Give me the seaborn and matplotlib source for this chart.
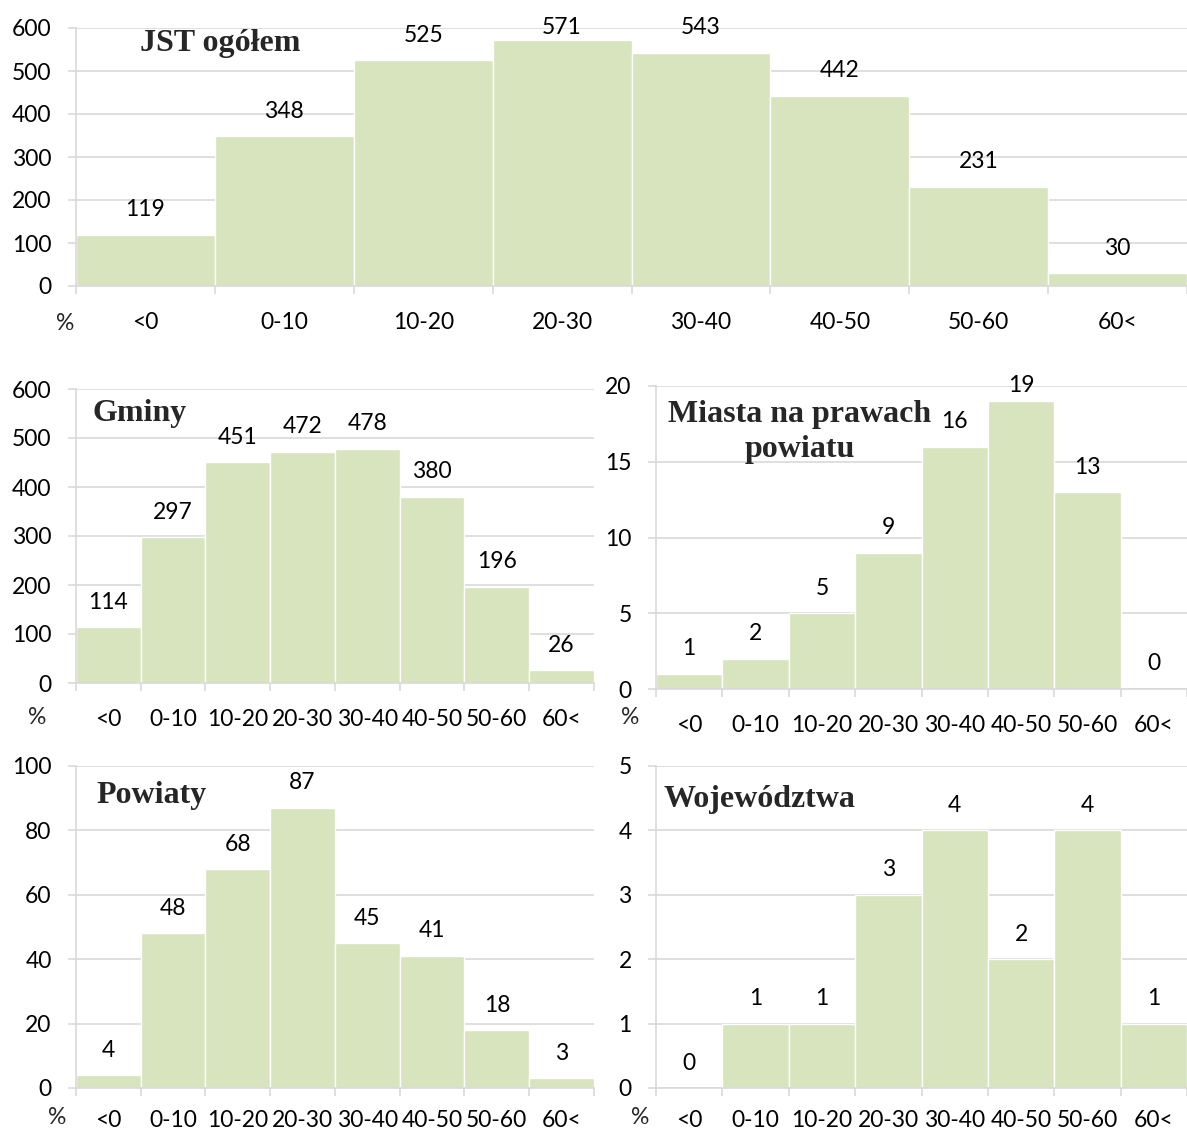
import matplotlib
matplotlib.use("Agg")
import matplotlib.pyplot as plt
import seaborn as sns
import numpy as np

categories = ["<0", "0-10", "10-20", "20-30", "30-40", "40-50", "50-60", "60<"]
jst_ogolem = [119, 348, 525, 571, 543, 442, 231, 30]
gminy = [114, 297, 451, 472, 478, 380, 196, 26]
miasta = [1, 2, 5, 9, 16, 19, 13, 0]
powiaty = [4, 48, 68, 87, 45, 41, 18, 3]
wojewodztwa = [0, 1, 1, 3, 4, 2, 4, 1]

sns.set_style("white")
plt.rcParams["font.family"] = ["Lato", "DejaVu Sans"]

W, H = 1187, 1133
fig = plt.figure(figsize=(W / 100, H / 100), dpi=100)

BAR = "#D7E4BD"
GRID = "#D9D9D9"
FS = 16.5


def make_ax(l, r, t, b):
    return fig.add_axes([l / W, 1 - b / H, (r - l) / W, (b - t) / H])


def panel(ax, vals, ymax, step, xpad=19):
    sns.barplot(x=categories, y=vals, ax=ax, color=BAR, width=1, saturation=1,
                edgecolor="white", linewidth=1, zorder=2)
    ax.set_xlim(-0.5, 7.5)
    ax.set_ylim(0, ymax)
    ax.set_yticks(np.arange(0, ymax + step / 2, step))
    ax.set_xticks(range(8))
    ax.set_xticklabels(categories)
    ax.set_xticks(np.arange(-0.5, 8, 1), minor=True)
    ax.set_xlabel("")
    ax.set_ylabel("")
    ax.yaxis.grid(True, color=GRID, linewidth=1.2, zorder=0)
    ax.set_axisbelow(True)
    for s in ["top", "right"]:
        ax.spines[s].set_visible(False)
    for s in ["left", "bottom"]:
        ax.spines[s].set_color(GRID)
        ax.spines[s].set_linewidth(1.2)
    ax.tick_params(axis="y", length=6, color=GRID, width=1.2, pad=11.5,
                   labelsize=FS, labelcolor="black", left=True)
    ax.tick_params(axis="x", which="major", length=0, pad=xpad, labelsize=FS,
                   labelcolor="black")
    ax.tick_params(axis="x", which="minor", length=6, color=GRID, width=1.2,
                   bottom=True)
    # value labels: ~25 px above the bar top, kept inside the plot area top
    top_px = ax.bbox.y1
    for bar, v in zip(ax.containers[0], vals):
        cx = bar.get_x() + bar.get_width() / 2
        bar_top_px = ax.transData.transform((cx, bar.get_height()))[1]
        off = min(25, top_px - bar_top_px)
        ax.annotate(f"{v}", xy=(cx, bar.get_height()), xytext=(0, off),
                    textcoords="offset pixels", ha="center", va="center",
                    fontsize=FS, color="black", annotation_clip=False)


ax1 = make_ax(76, 1187, 28, 286)
panel(ax1, jst_ogolem, 600, 100)
ax2 = make_ax(76, 594, 389, 683)
panel(ax2, gminy, 600, 100)
ax3 = make_ax(656, 1187, 386, 689)
panel(ax3, miasta, 20, 5)
ax4 = make_ax(76, 594, 766, 1088)
panel(ax4, powiaty, 100, 20, xpad=15.5)
ax5 = make_ax(656, 1187, 766, 1088)
panel(ax5, wojewodztwa, 5, 1, xpad=15.5)

title_font = dict(family="Liberation Serif", fontweight="bold", fontsize=23)


def ftext(x, y, s, **kw):
    fig.text(x / W, 1 - y / H, s, **kw)


ftext(220, 44, "JST ogółem", ha="center", va="center", **title_font)
ftext(93, 413, "Gminy", ha="left", va="center", **title_font)
ftext(800, 432, "Miasta na prawach\npowiatu", ha="center", va="center",
      linespacing=1.28, **title_font)
ftext(96, 795, "Powiaty", ha="left", va="center", **title_font)
ftext(663, 799, "Województwa", ha="left", va="center", **title_font)

for (x, y) in [(65, 323), (37, 717), (630, 717), (57, 1117), (640, 1118)]:
    ftext(x, y, "%", ha="center", va="center", fontsize=FS)

fig.savefig("out.png", dpi=100)
